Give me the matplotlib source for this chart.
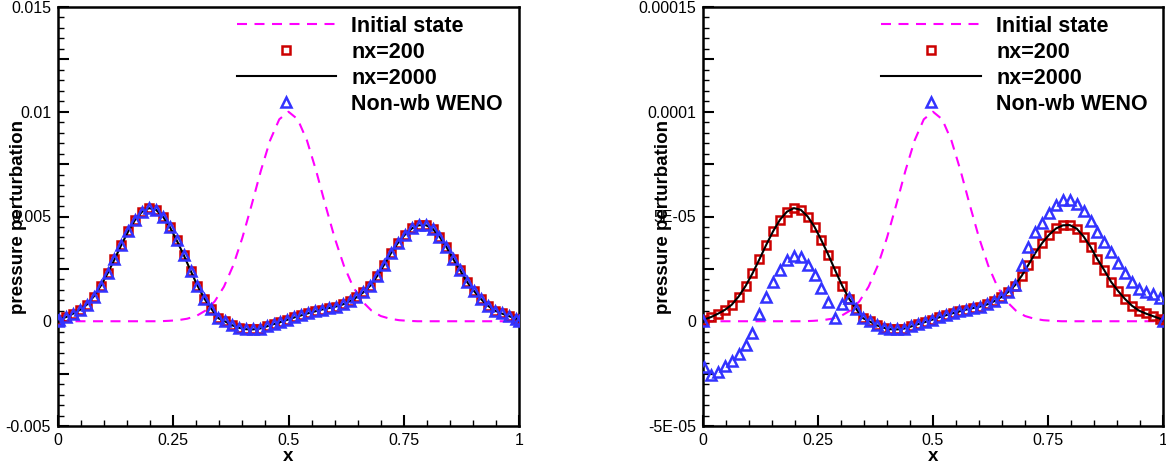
import numpy as np
import matplotlib
matplotlib.use('Agg')
import matplotlib.pyplot as plt
from matplotlib.ticker import FixedLocator, MultipleLocator, FixedFormatter

plt.rcParams['font.family'] = ['Liberation Sans', 'DejaVu Sans']

# ---------------- data ----------------
# initial state (units: 1e-3 left panel, 1e-5 right panel)
x_init = np.linspace(0, 1, 51)
p_init = [0, 0, 0, 0, 0, 0, 0, 0, 0, 0, 0, 0,
          0.02, 0.05, 0.12, 0.25, 0.51, 0.95, 1.65, 2.66, 3.99, 5.55, 7.18, 8.63, 9.64, 10.0,
          9.64, 8.63, 7.18, 5.55, 3.99, 2.66, 1.65, 0.95, 0.51, 0.25, 0.12, 0.05, 0.02,
          0, 0, 0, 0, 0, 0, 0, 0, 0, 0, 0, 0]

# marker grid (every third cell of nx=200 plus boundaries)
x_pts = np.concatenate([[0.0], 0.0025 + 0.015 * np.arange(67), [1.0]])

# nx=200 solution (same shape in both panels)
p_nx200 = [0.0,
           0.08, 0.20, 0.36, 0.54, 0.79, 1.18, 1.68, 2.28, 2.95, 3.65,
           4.30, 4.85, 5.23, 5.40, 5.32, 5.00, 4.50, 3.86, 3.17, 2.42,
           1.70, 1.08, 0.60, 0.15, -0.01, -0.19, -0.31, -0.38, -0.39, -0.35,
           -0.25, -0.14, -0.04, 0.07, 0.18, 0.28, 0.38, 0.47, 0.56, 0.63,
           0.70, 0.80, 0.95, 1.14, 1.38, 1.70, 2.16, 2.70, 3.26, 3.74,
           4.13, 4.43, 4.58, 4.59, 4.42, 4.04, 3.55, 2.96, 2.43, 1.87,
           1.44, 1.06, 0.74, 0.51, 0.37, 0.25, 0.13,
           0.03]

# nx=2000 reference solution
x_ref = x_pts
p_nx2000 = [0.0,
            0.08, 0.20, 0.36, 0.54, 0.79, 1.18, 1.68, 2.28, 2.95, 3.65,
            4.30, 4.85, 5.23, 5.40, 5.32, 5.00, 4.50, 3.86, 3.17, 2.42,
            1.70, 1.08, 0.60, 0.15, -0.01, -0.19, -0.31, -0.38, -0.39, -0.35,
            -0.25, -0.14, -0.04, 0.07, 0.18, 0.28, 0.38, 0.47, 0.56, 0.63,
            0.70, 0.80, 0.95, 1.14, 1.38, 1.70, 2.16, 2.70, 3.26, 3.74,
            4.13, 4.43, 4.58, 4.59, 4.42, 4.04, 3.55, 2.96, 2.43, 1.87,
            1.44, 1.06, 0.74, 0.51, 0.37, 0.25, 0.13,
            0.03]

# non well-balanced WENO: large perturbation (left panel), small perturbation (right panel)
p_weno_left = list(p_nx200)
p_weno_right = [0.0,
                -2.20, -2.55, -2.40, -2.15, -1.90, -1.55, -1.12, -0.55, 0.35, 1.15,
                1.85, 2.45, 2.90, 3.12, 3.05, 2.70, 2.20, 1.60, 0.90, 0.17,
                0.80, 1.10, 0.60, 0.15, -0.01, -0.19, -0.31, -0.38, -0.39, -0.35,
                -0.25, -0.14, -0.04, 0.07, 0.18, 0.28, 0.38, 0.47, 0.56, 0.63,
                0.70, 0.80, 0.95, 1.14, 1.40, 1.72, 2.70, 3.55, 4.25, 4.70,
                5.15, 5.55, 5.78, 5.80, 5.62, 5.28, 4.80, 4.28, 3.80, 3.30,
                2.80, 2.30, 1.85, 1.55, 1.42, 1.28, 1.12,
                0.0]

legend_labels = ['Initial state', 'nx=200', 'nx=2000', 'Non-wb WENO']
x_tick_vals = [0, 0.25, 0.5, 0.75, 1]
x_tick_labels = ['0', '0.25', '0.5', '0.75', '1']

panels = [
    dict(scale=1e-3, weno=p_weno_left, ylim=(-0.005, 0.015), major=0.0025, minor=0.0005,
         ylabels=['-0.005', '', '0', '', '0.005', '', '0.01', '', '0.015']),
    dict(scale=1e-5, weno=p_weno_right, ylim=(-5e-5, 1.5e-4), major=2.5e-5, minor=5e-6,
         ylabels=['-5E-05', '', '0', '', '5E-05', '', '0.0001', '', '0.00015']),
]

fig = plt.figure(figsize=(11.66, 4.68), dpi=100)
axes_rects = [[58 / 1166, 42 / 468, 461 / 1166, 419 / 468],
              [703 / 1166, 42 / 468, 460 / 1166, 419 / 468]]

red = '#cc0000'
blue = '#3333ff'
mag = '#ff00ff'

for rect, pan in zip(axes_rects, panels):
    ax = fig.add_axes(rect)
    s = pan['scale']
    l1, = ax.plot(x_init, np.array(p_init) * s, color=mag, lw=1.5, dashes=(4.8, 3.6), zorder=2)
    l2, = ax.plot(x_pts, np.array(p_nx200) * s, ls='none', marker='s', ms=5.8, mfc='none',
                  mec=red, mew=1.8, zorder=3)
    l3, = ax.plot(x_ref, np.array(p_nx2000) * s, color='black', lw=1.5, zorder=4)
    l4, = ax.plot(x_pts, np.array(pan['weno']) * s, ls='none', marker='^', ms=6.8, mfc='none',
                  mec=blue, mew=1.8, zorder=5)

    ax.set_xlim(0, 1)
    ax.set_ylim(*pan['ylim'])
    ax.xaxis.set_major_locator(FixedLocator(x_tick_vals))
    ax.xaxis.set_major_formatter(FixedFormatter(x_tick_labels))
    ax.xaxis.set_minor_locator(MultipleLocator(0.05))
    yt = np.arange(9) * pan['major'] + pan['ylim'][0]
    ax.yaxis.set_major_locator(FixedLocator(yt))
    ax.yaxis.set_major_formatter(FixedFormatter(pan['ylabels']))
    ax.yaxis.set_minor_locator(MultipleLocator(pan['minor']))
    ax.tick_params(which='both', direction='in', top=False, right=False, labelsize=11.5)
    ax.tick_params(which='major', length=8, width=1.5, pad=5)
    ax.tick_params(which='minor', length=4.5, width=1.0)
    for sp in ax.spines.values():
        sp.set_linewidth(1.8)

    ax.set_xlabel('x', fontsize=13.5, fontweight='bold')
    ax.xaxis.set_label_coords(0.5, -0.072)
    ax.xaxis.label.set_verticalalignment('center')
    ax.set_ylabel('pressure perturbation', fontsize=13.5, fontweight='bold')
    ax.yaxis.set_label_coords(-0.085, 0.5)
    ax.yaxis.label.set_verticalalignment('center')

    ax.legend([l1, l2, l3, l4], legend_labels, loc='upper left',
              bbox_to_anchor=(0.388, 0.979), frameon=False, borderpad=0, borderaxespad=0,
              handlelength=4.6, handletextpad=0.72, labelspacing=0.23, numpoints=1,
              prop=dict(family=['Liberation Sans', 'DejaVu Sans'], weight='bold', size=15.5))

fig.savefig('out.png', dpi=100)
